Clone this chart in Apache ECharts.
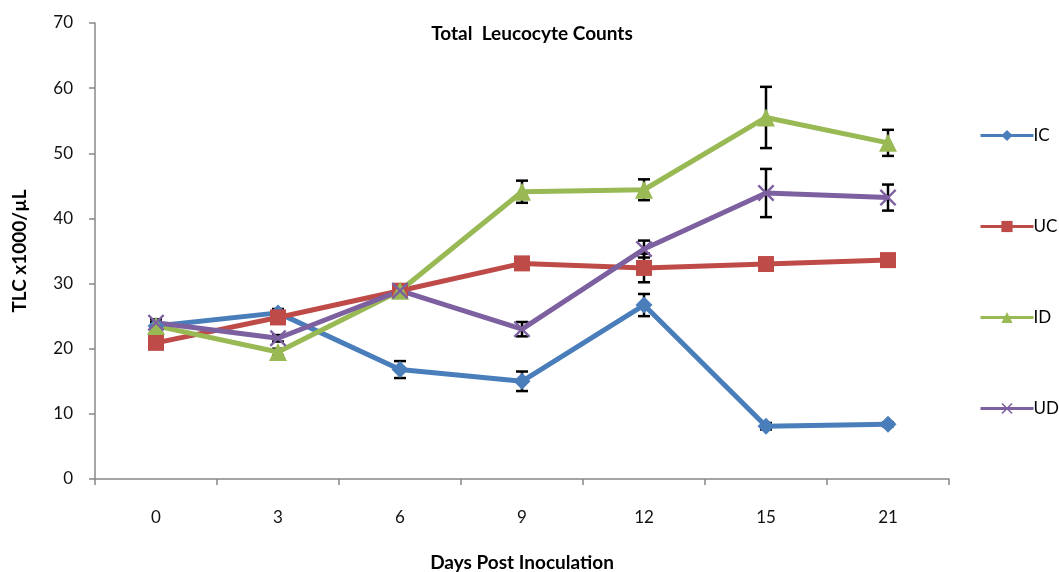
<!DOCTYPE html>
<html><head><meta charset="utf-8">
<script src="https://cdn.jsdelivr.net/npm/echarts@6/dist/echarts.min.js"></script>
<style>html,body{margin:0;padding:0;background:#fff}#c{width:1059px;height:572px}</style>
</head><body><div id="c"></div>
<script>
const days = ['0','3','6','9','12','15','21'];
const seriesNames = ['IC','UC','ID','UD'];
const ic = [23.5, 25.5, 16.8, 15.0, 26.7, 8.1, 8.4];
const uc = [20.9, 24.8, 28.9, 33.1, 32.4, 33.0, 33.6];
const id = [23.5, 19.5, 28.9, 44.1, 44.4, 55.5, 51.6];
const ud = [24.0, 21.6, 28.9, 23.0, 35.3, 43.9, 43.2];
const icErr = [0.5, 0.6, 1.3, 1.5, 1.7, 0.5, 0.3];
const ucErr = [0.4, 0.5, 0.5, 0.6, 2.2, 0.5, 0.4];
const idErr = [0.6, 0.5, 0.5, 1.7, 1.6, 4.7, 2.0];
const udErr = [0.5, 0.5, 0.5, 1.1, 1.3, 3.7, 2.0];
const yTicks = [0, 10, 20, 30, 40, 50, 60, 70];

const colors = ['#4A7EBB', '#BE4B48', '#98B954', '#7D60A0'];
const symbols = ['diamond', 'rect', 'triangle',
  'path://M0,1 L1,0 L5,4 L9,0 L10,1 L6,5 L10,9 L9,10 L5,6 L1,10 L0,9 L4,5 Z'];
const symbolSizes = [17, 16, 18, 17];
const values = [ic, uc, id, ud];
const errs = [icErr, ucErr, idErr, udErr];
const FONT = 'Lato, "Open Sans", sans-serif';

function errData(v, e) { return v.map((x, i) => [i, x - e[i], x + e[i]]); }

const errSeries = values.map((v, k) => ({
  type: 'custom',
  name: seriesNames[k] + ' err',
  z: 1,
  silent: true,
  data: errData(v, errs[k]),
  encode: { x: 0, y: [1, 2] },
  renderItem: function (params, api) {
    const x = api.value(0);
    const lo = api.coord([x, api.value(1)]);
    const hi = api.coord([x, api.value(2)]);
    const hw = 6;
    const st = { stroke: '#000', lineWidth: 2.5 };
    return { type: 'group', children: [
      { type: 'line', shape: { x1: lo[0], y1: lo[1], x2: hi[0], y2: hi[1] }, style: st },
      { type: 'line', shape: { x1: lo[0] - hw, y1: lo[1], x2: lo[0] + hw, y2: lo[1] }, style: st },
      { type: 'line', shape: { x1: hi[0] - hw, y1: hi[1], x2: hi[0] + hw, y2: hi[1] }, style: st }
    ]};
  }
}));

const lineSeries = values.map((v, k) => ({
  type: 'line',
  name: seriesNames[k],
  data: v,
  z: 3,
  symbol: symbols[k],
  symbolSize: symbolSizes[k],
  showAllSymbol: true,
  lineStyle: { color: colors[k], width: 5 },
  itemStyle: { color: colors[k] },
  emphasis: { disabled: true }
}));

const chart = echarts.init(document.getElementById('c'));
chart.setOption({
  animation: false,
  backgroundColor: '#fff',
  title: {
    text: 'Total  Leucocyte Counts',
    left: 527, top: 19, textAlign: 'center',
    textStyle: { fontFamily: FONT, fontSize: 19, fontWeight: 'bold', color: '#000' }
  },
  legend: {
    data: seriesNames,
    orient: 'vertical',
    left: 974, top: 122,
    itemWidth: 53, itemHeight: 14, itemGap: 74,
    lineStyle: { width: 3 },
    textStyle: { fontFamily: FONT, fontSize: 17, color: '#000', padding: [0, 0, 0, -5] }
  },
  grid: { left: 95, right: 110, top: 23, bottom: 93, containLabel: false, outerBoundsMode: 'none' },
  xAxis: {
    type: 'category',
    data: days,
    boundaryGap: true,
    name: 'Days Post Inoculation',
    nameLocation: 'middle',
    nameGap: 74,
    nameTextStyle: { fontFamily: FONT, fontSize: 19, fontWeight: 'bold', color: '#000' },
    axisLine: { lineStyle: { color: '#888', width: 1.5 } },
    axisTick: { show: true, length: 6, lineStyle: { color: '#888', width: 1.5 } },
    axisLabel: { fontFamily: FONT, fontSize: 17, color: '#111', margin: 30 }
  },
  yAxis: {
    type: 'value',
    min: yTicks[0], max: yTicks[yTicks.length - 1], interval: 10,
    name: 'TLC x1000/µL',
    nameLocation: 'middle',
    nameGap: 66,
    nameRotate: 90,
    nameTextStyle: { fontFamily: FONT, fontSize: 19, fontWeight: 'bold', color: '#000' },
    axisLine: { show: true, lineStyle: { color: '#888', width: 1.5 } },
    axisTick: { show: true, length: 6, lineStyle: { color: '#888', width: 1.5 } },
    splitLine: { show: false },
    axisLabel: { fontFamily: FONT, fontSize: 17, color: '#111', margin: 22 }
  },
  series: [...errSeries, ...lineSeries]
});
</script></body></html>
